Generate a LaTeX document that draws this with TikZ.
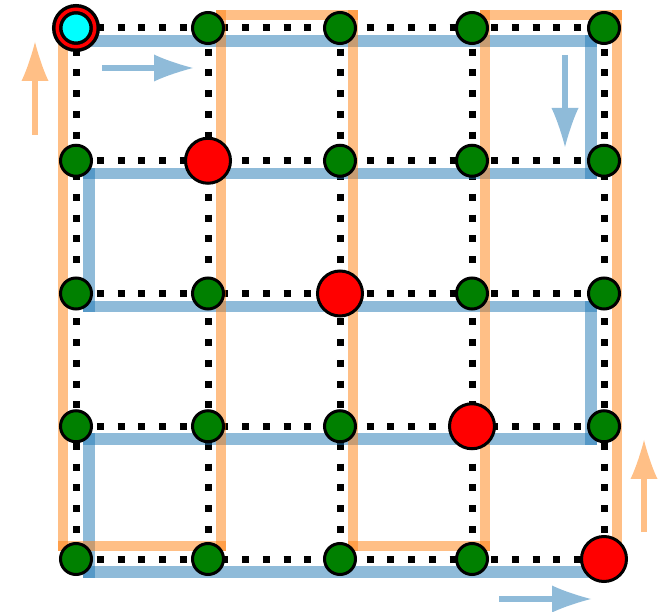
\documentclass[tikz,border=0pt]{standalone}
\usetikzlibrary{arrows.meta}
\definecolor{pathblue}{RGB}{31,119,180}
\definecolor{pathorange}{RGB}{255,127,14}
\definecolor{arrowblue}{RGB}{143,187,217}
\definecolor{arroworange}{RGB}{255,191,134}
\definecolor{sitegreen}{RGB}{0,128,0}
\definecolor{sitecyan}{RGB}{0,255,255}
\begin{document}
\begin{tikzpicture}[x=1pt,y=-1pt,
    greensite/.style={circle,draw=black,line width=3pt,fill=sitegreen,minimum size=31pt,inner sep=0pt},
    redsite/.style={greensite,fill=red,minimum size=45pt},
    startsite/.style={greensite,fill=sitecyan,double=red,line width=3.5pt,double distance=3.5pt,minimum size=37.5pt},
    bluepath/.style={pathblue,opacity=0.5,line width=11.5pt,line cap=rect},
    orangepath/.style={pathorange,opacity=0.5,line width=10.5pt,line cap=rect},
    bluearrow/.style={arrowblue,line width=6.5pt,-{Latex[length=39pt,width=27pt,line width=0pt]}},
    orangearrow/.style={bluearrow,arroworange},
    gridline/.style={line width=7pt,dash pattern=on 7pt off 13.75pt}]
    \useasboundingbox (0,0) rectangle (670,612);
    \foreach \i in {0,...,4}{\foreach \j in {0,...,4}{\coordinate (p-\i-\j) at ({76+132*\i},{28+132.75*\j});}}
    \foreach \k in {0,...,4}{
      \draw[gridline] (p-0-\k) -- (p-4-\k);
      \draw[gridline] (p-\k-0) -- (p-\k-4);
    }
    \foreach \j in {0,...,3}{\draw[bluepath] ([shift={(13,13)}]p-0-\j) -- ([shift={(-13,13)}]p-4-\j);}
    \draw[bluepath] ([shift={(13,13)}]p-0-4) -- ([shift={(0,13)}]p-4-4);
    \foreach \c/\dx/\j/\jj in {4/-13/0/1,0/13/1/2,4/-13/2/3,0/13/3/4}{
      \draw[bluepath] ([shift={(\dx,13)}]p-\c-\j) -- ([shift={(\dx,13)}]p-\c-\jj);}
    \draw[orangepath] ([shift={(13,0)}]p-4-4) -- ([shift={(13,-13)}]p-4-0);
    \foreach \i in {1,2,3}{\draw[orangepath] ([shift={(13,-13)}]p-\i-0) -- ([shift={(13,-13)}]p-\i-4);}
    \foreach \i/\ii/\r in {3/4/0,2/3/4,1/2/0}{
      \draw[orangepath] ([shift={(13,-13)}]p-\ii-\r) -- ([shift={(13,-13)}]p-\i-\r);}
    \draw[orangepath] ([shift={(13,-13)}]p-1-4) -- ([shift={(-13,-13)}]p-0-4);
    \draw[orangepath] ([shift={(-13,-13)}]p-0-4) -- ([shift={(-13,0)}]p-0-0);
    \draw[bluearrow] (102,68) -- (193,68);
    \draw[bluearrow] (565,55) -- (565,147);
    \draw[bluearrow] (499,599) -- (591,599);
    \draw[orangearrow] (35,135) -- (35,42);
    \draw[orangearrow] (644,532) -- (644,440);
    \foreach \i in {0,...,4}{\foreach \j in {0,...,4}{
      \ifnum\i=\j
        \ifnum\i=0 \node[startsite] (n-\i-\j) at (p-\i-\j) {};
        \else \node[redsite] (n-\i-\j) at (p-\i-\j) {};
        \fi
      \else \node[greensite] (n-\i-\j) at (p-\i-\j) {};
      \fi}}
\end{tikzpicture}
\end{document}
